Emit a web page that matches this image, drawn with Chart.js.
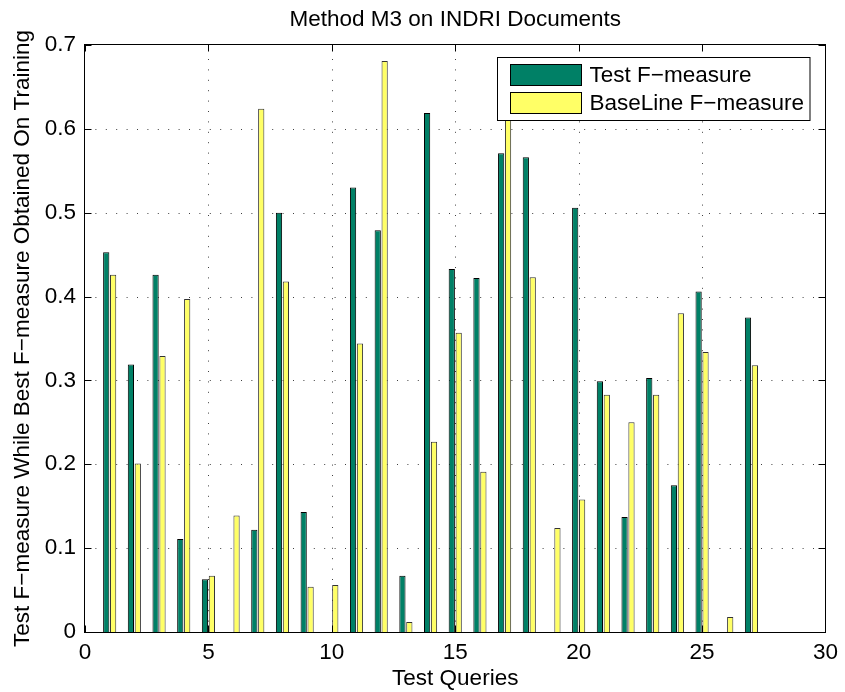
<!DOCTYPE html>
<html>
<head>
<meta charset="utf-8">
<script src="https://cdn.jsdelivr.net/npm/chart.js@4/dist/chart.umd.min.js"></script>
<style>
  html, body { margin: 0; padding: 0; background: #ffffff; }
  #wrap { width: 845px; height: 692px; position: relative; }
</style>
</head>
<body>
<div id="wrap"><canvas id="c" width="845" height="692"></canvas></div>
<script>
// ---- chart data ----
const chartTitle = 'Method M3 on INDRI Documents';
const xAxisLabel = 'Test Queries';
const yAxisLabel = 'Test F\u2212measure While Best F\u2212measure Obtained On Training';
const seriesNames = ['Test F\u2212measure', 'BaseLine F\u2212measure'];
const queries = [1, 2, 3, 4, 5, 6, 7, 8, 9, 10, 11, 12, 13, 14, 15, 16, 17, 18, 19, 20, 21, 22, 23, 24, 25, 26, 27];
const testF = [0.453, 0.319, 0.426, 0.111, 0.063, 0, 0.122, 0.500, 0.143, 0, 0.530, 0.479, 0.067, 0.619, 0.433, 0.422, 0.571, 0.566, 0, 0.506, 0.299, 0.137, 0.303, 0.175, 0.406, 0, 0.375];
const baselineF = [0.426, 0.201, 0.329, 0.397, 0.067, 0.139, 0.624, 0.418, 0.054, 0.056, 0.344, 0.681, 0.012, 0.227, 0.357, 0.191, 0.650, 0.423, 0.124, 0.158, 0.283, 0.250, 0.283, 0.380, 0.334, 0.018, 0.318];
const xTicks = [0, 5, 10, 15, 20, 25, 30];
const yTicks = [0, 0.1, 0.2, 0.3, 0.4, 0.5, 0.6, 0.7];

// ---- styling ----
const FONT = 'Liberation Sans, Arial, Helvetica, sans-serif';
const FS = 22.5;
const greenColor = '#008066';
const yellowColor = '#ffff66';

const toPoints = (vals) => queries.map((q, i) => ({ x: q, y: vals[i] }));

// Grid (dotted) drawn behind the bars
const gridPlugin = {
  id: 'matlabGrid',
  beforeDatasetsDraw(chart) {
    const { ctx, chartArea: a, scales: { x, y } } = chart;
    ctx.save();
    ctx.strokeStyle = 'rgba(0,0,0,0.75)';
    ctx.lineWidth = 1;
    ctx.setLineDash([1, 9.4]);
    xTicks.forEach(v => {
      if (v === xTicks[0] || v === xTicks[xTicks.length - 1]) return;
      const px = Math.round(x.getPixelForValue(v)) + 0.5;
      ctx.beginPath();
      ctx.moveTo(px, a.bottom);
      ctx.lineTo(px, a.top);
      ctx.stroke();
    });
    yTicks.forEach(v => {
      if (v === yTicks[0] || v === yTicks[yTicks.length - 1]) return;
      const py = Math.round(y.getPixelForValue(v)) + 0.5;
      ctx.beginPath();
      ctx.moveTo(a.left, py);
      ctx.lineTo(a.right, py);
      ctx.stroke();
    });
    ctx.restore();
  }
};

// Box, inward ticks and legend drawn on top
const boxPlugin = {
  id: 'matlabBox',
  afterDatasetsDraw(chart) {
    const { ctx, chartArea: a, scales: { x, y } } = chart;
    const L = Math.round(a.left) - 0.5, R = Math.round(a.right) + 0.5;
    const T = Math.round(a.top) - 0.5, B = Math.round(a.bottom) + 0.5;
    ctx.save();
    ctx.strokeStyle = '#000';
    ctx.lineWidth = 1;
    ctx.setLineDash([]);
    const tl = 7;
    ctx.beginPath();
    xTicks.forEach(v => {
      const px = Math.round(x.getPixelForValue(v)) + 0.5;
      ctx.moveTo(px, B); ctx.lineTo(px, B - tl);
      ctx.moveTo(px, T); ctx.lineTo(px, T + tl);
    });
    yTicks.forEach(v => {
      const py = Math.round(y.getPixelForValue(v)) + 0.5;
      ctx.moveTo(L, py); ctx.lineTo(L + tl, py);
      ctx.moveTo(R, py); ctx.lineTo(R - tl, py);
    });
    ctx.stroke();
    ctx.strokeRect(L, T, R - L, B - T);

    // legend
    ctx.font = FS + 'px ' + FONT;
    const ds = chart.data.datasets;
    const textW = Math.max(...ds.map(d => ctx.measureText(d.label).width));
    const padL = 13, swW = 71, swH = 21, gap = 8, padR = 6, rowH = 28;
    const boxW = padL + swW + gap + textW + padR;
    const boxH = 63;
    const bx = Math.round(a.right - 16 - boxW) + 0.5;
    const by = Math.round(a.top + 12) + 0.5;
    ctx.fillStyle = '#fff';
    ctx.fillRect(bx, by, boxW, boxH);
    ctx.strokeStyle = '#000';
    ctx.strokeRect(bx, by, boxW, boxH);
    ds.forEach((d, i) => {
      const sy = by + 7 + i * rowH;
      ctx.fillStyle = d.backgroundColor;
      ctx.fillRect(bx + padL, sy, swW, swH);
      ctx.strokeStyle = '#000';
      ctx.strokeRect(bx + padL, sy, swW, swH);
      ctx.fillStyle = '#000';
      ctx.textBaseline = 'middle';
      ctx.textAlign = 'left';
      ctx.fillText(d.label, bx + padL + swW + gap, sy + swH / 2 + 1);
    });
    ctx.restore();
  }
};

new Chart(document.getElementById('c'), {
  type: 'bar',
  data: {
    datasets: [
      { label: seriesNames[0], data: toPoints(testF), backgroundColor: greenColor, borderColor: '#000', borderWidth: 1, borderSkipped: 'start' },
      { label: seriesNames[1], data: toPoints(baselineF), backgroundColor: yellowColor, borderColor: '#333', borderWidth: 1, borderSkipped: 'start' }
    ]
  },
  options: {
    responsive: false,
    animation: false,
    devicePixelRatio: 1,
    categoryPercentage: 0.56,
    barPercentage: 0.9,
    layout: { padding: { left: 0, right: 16, top: 0, bottom: 0 } },
    plugins: {
      legend: { display: false },
      tooltip: { enabled: false },
      title: {
        display: true,
        text: chartTitle,
        color: '#000',
        fullSize: false,
        font: { family: FONT, size: FS, weight: 'normal', lineHeight: 1 },
        padding: { top: 8.75, bottom: 13.75 }
      }
    },
    scales: {
      x: {
        type: 'linear',
        min: 0, max: 30,
        offset: false,
        afterBuildTicks: s => { s.ticks = xTicks.map(v => ({ value: v })); },
        afterFit: s => { s.height = 60; },
        grid: { display: false, drawTicks: false, offset: false },
        border: { display: false },
        ticks: { color: '#000', padding: 7, maxRotation: 0, autoSkip: false, font: { family: FONT, size: FS }, callback: v => String(v) },
        title: { display: true, text: xAxisLabel, color: '#000', font: { family: FONT, size: FS, lineHeight: 1 }, padding: { top: 0, bottom: 1.5 } }
      },
      y: {
        type: 'linear',
        min: 0, max: 0.7,
        afterBuildTicks: s => { s.ticks = yTicks.map(v => ({ value: v })); },
        afterFit: s => { s.width = 85; },
        grid: { display: false, drawTicks: false },
        border: { display: false },
        ticks: { color: '#000', padding: 9, font: { family: FONT, size: FS }, callback: v => String(+Number(v).toFixed(1)) },
        title: { display: true, text: yAxisLabel, color: '#000', font: { family: FONT, size: FS, lineHeight: 1 }, padding: { top: 11.25, bottom: 0 } }
      }
    }
  },
  plugins: [gridPlugin, boxPlugin]
});
</script>
</body>
</html>
